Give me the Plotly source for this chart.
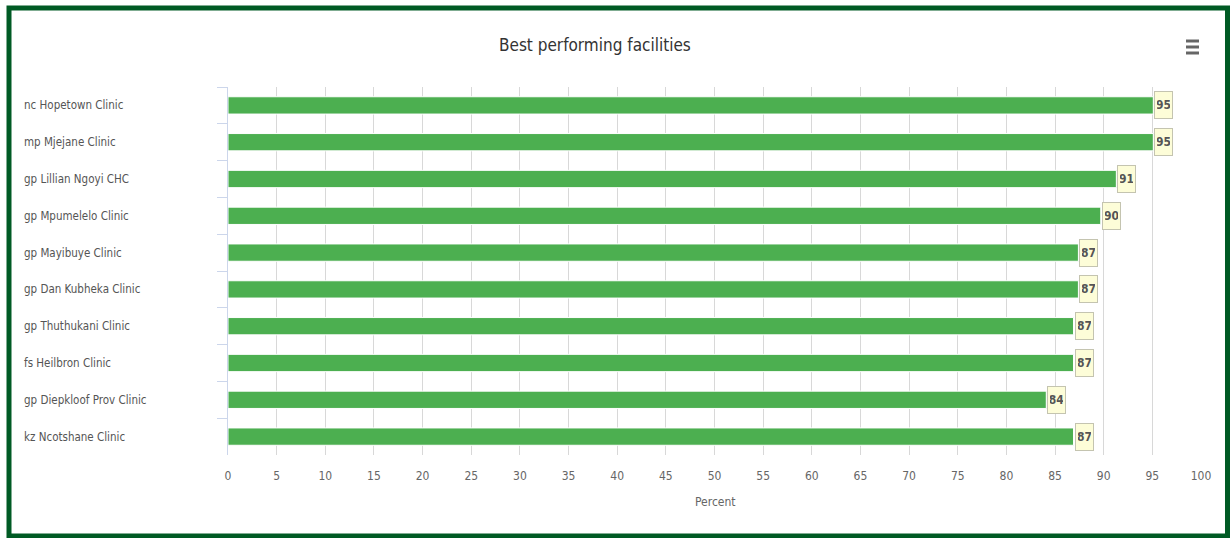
import plotly.graph_objects as go

facilities = ["nc Hopetown Clinic", "mp Mjejane Clinic", "gp Lillian Ngoyi CHC",
              "gp Mpumelelo Clinic", "gp Mayibuye Clinic", "gp Dan Kubheka Clinic",
              "gp Thuthukani Clinic", "fs Heilbron Clinic", "gp Diepkloof Prov Clinic",
              "kz Ncotshane Clinic"]
percent = [95.1, 95.1, 91.3, 89.7, 87.4, 87.4, 86.9, 86.9, 84.1, 86.9]
x_ticks = list(range(0, 101, 5))

W, H = 1230, 538
ML, MR, MT, MB = 228, 29, 87, 83
PW, PH = W - ML - MR, H - MT - MB

def px(x):
    return (x - ML) / PW

def py(y):
    return (H - MB - y) / PH

FONT = "Liberation Sans Narrow, DejaVu Sans Condensed, Roboto Condensed, Arial Narrow, sans-serif"

fig = go.Figure()
fig.add_trace(go.Bar(
    x=percent, y=facilities, orientation="h",
    marker=dict(color="#4caf50", line=dict(color="#ffffff", width=1)),
    width=0.47, hoverinfo="x+y",
))

annotations = []
# data labels
for f, v in zip(facilities, percent):
    annotations.append(dict(
        x=v, y=f, xref="x", yref="y", text="<b>%d</b>" % round(v),
        showarrow=False, xanchor="left", xshift=1,
        width=13, height=22, align="center", valign="middle",
        font=dict(family=FONT, size=12, color="#555555"),
        bgcolor="#fdfdd8", bordercolor="#c4c4b0", borderwidth=1, borderpad=2,
    ))
# left-aligned category labels
for f in facilities:
    annotations.append(dict(
        x=px(22), y=f, xref="paper", yref="y", text=f,
        showarrow=False, xanchor="left",
        font=dict(family=FONT, size=11.5, color="#555555"),
    ))
# axis title
annotations.append(dict(
    x=px(715), y=py(502), xref="paper", yref="paper", text="Percent",
    showarrow=False, xanchor="center", yanchor="middle",
    font=dict(family=FONT, size=12, color="#666666"),
))
# chart title
annotations.append(dict(
    x=px(595), y=py(45), xref="paper", yref="paper", text="Best performing facilities",
    showarrow=False, xanchor="center", yanchor="middle",
    font=dict(family=FONT, size=17, color="#333333"),
))

shapes = []
# frame
shapes.append(dict(type="rect", xref="paper", yref="paper",
                   x0=px(9), x1=px(1227.5), y0=py(536), y1=py(8),
                   line=dict(color="#005a24", width=5), layer="above"))
# hamburger menu icon
for yy in (41, 47, 53):
    shapes.append(dict(type="line", xref="paper", yref="paper",
                       x0=px(1186), x1=px(1199), y0=py(yy), y1=py(yy),
                       line=dict(color="#666666", width=3)))

fig.update_layout(
    width=W, height=H,
    margin=dict(l=ML, r=MR, t=MT, b=MB),
    paper_bgcolor="white", plot_bgcolor="white",
    showlegend=False,
    font=dict(family=FONT, size=12, color="#666666"),
    bargap=0.53,
    xaxis=dict(range=[0, 100], tickvals=x_ticks, ticktext=[str(t) for t in x_ticks],
               showgrid=True, gridcolor="#d8d8d8", gridwidth=1,
               zeroline=False, showline=False, ticks="", ticklabelstandoff=12,
               tickfont=dict(family=FONT, size=12, color="#666666"),
               fixedrange=True),
    yaxis=dict(autorange="reversed", showticklabels=False,
               showline=True, linecolor="#ccd6eb", linewidth=1,
               ticks="outside", ticklen=10, tickcolor="#ccd6eb", tickson="boundaries",
               showgrid=False, fixedrange=True),
    annotations=annotations,
    shapes=shapes,
)

fig.write_html("out.html", config={"displayModeBar": False},
               post_script="document.body.style.margin='0';document.body.style.overflow='hidden';")
